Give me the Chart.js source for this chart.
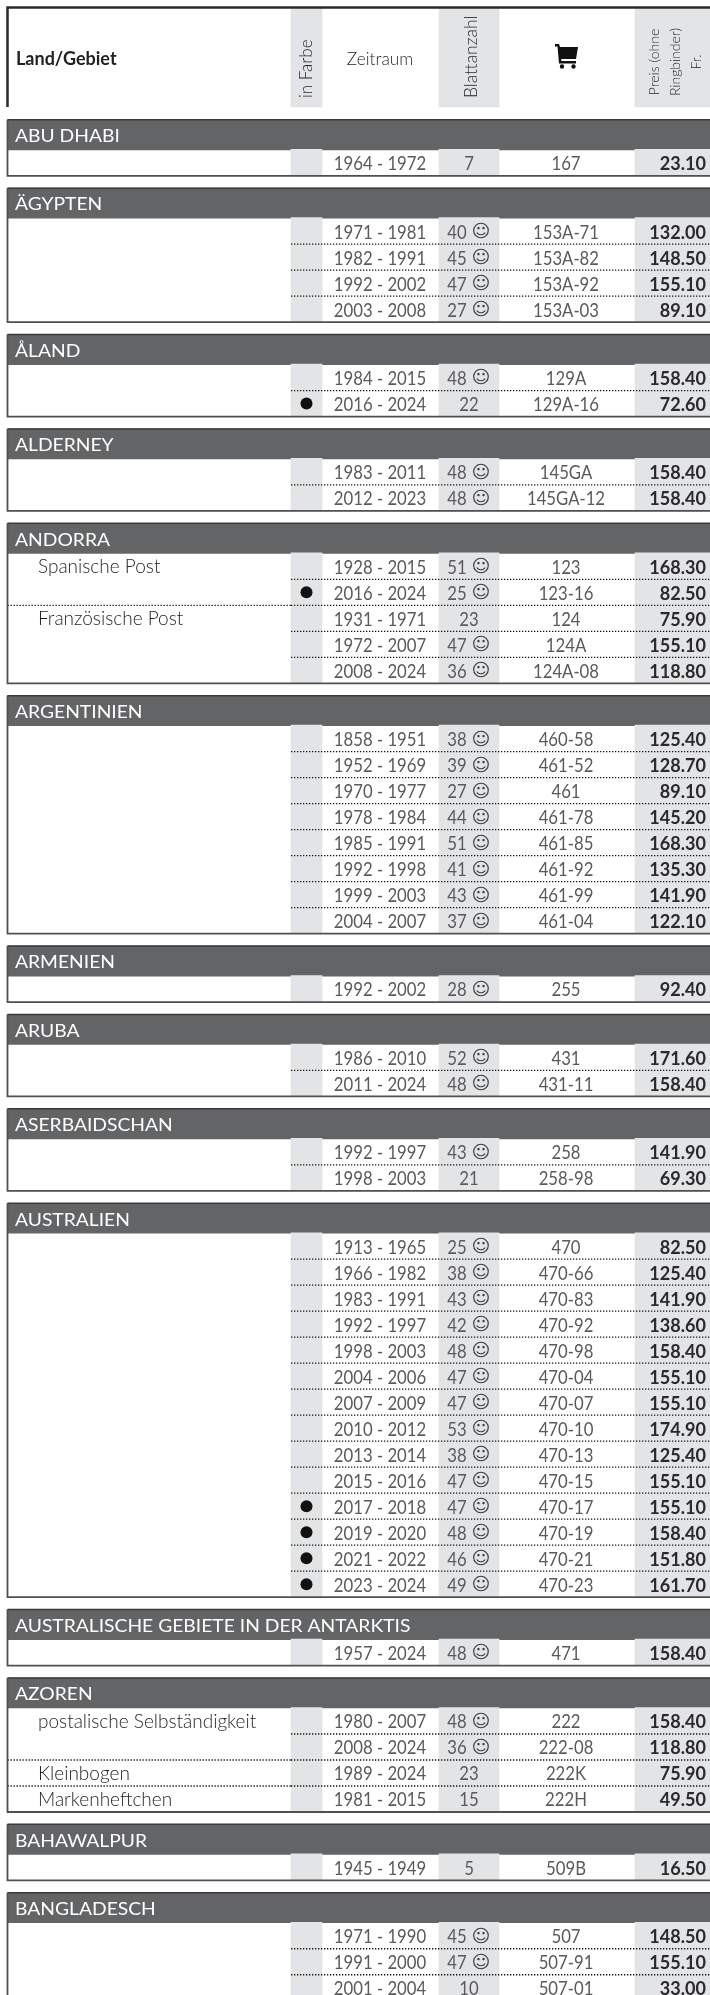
<!DOCTYPE html>
<html lang="de">
<head>
<meta charset="utf-8">
<title>Land/Gebiet</title>
<script src="https://cdn.jsdelivr.net/npm/chart.js@4"></script>
<style>
  html, body { margin: 0; padding: 0; background: #fff; overflow: hidden; }
  canvas { display: block; }
</style>
</head>
<body>
<canvas id="chart" width="710" height="1995"></canvas>
<script>
const sectionNames = ['ABU DHABI', 'ÄGYPTEN', 'ÅLAND', 'ALDERNEY', 'ANDORRA', 'ARGENTINIEN', 'ARMENIEN', 'ARUBA',
  'ASERBAIDSCHAN', 'AUSTRALIEN', 'AUSTRALISCHE GEBIETE IN DER ANTARKTIS', 'AZOREN', 'BAHAWALPUR', 'BANGLADESCH'];
const sectionRows = [1, 4, 2, 2, 5, 8, 1, 2, 2, 14, 1, 4, 1, 3];

const periods = ['1964 - 1972',
  '1971 - 1981', '1982 - 1991', '1992 - 2002', '2003 - 2008',
  '1984 - 2015', '2016 - 2024',
  '1983 - 2011', '2012 - 2023',
  '1928 - 2015', '2016 - 2024', '1931 - 1971', '1972 - 2007', '2008 - 2024',
  '1858 - 1951', '1952 - 1969', '1970 - 1977', '1978 - 1984', '1985 - 1991', '1992 - 1998', '1999 - 2003', '2004 - 2007',
  '1992 - 2002',
  '1986 - 2010', '2011 - 2024',
  '1992 - 1997', '1998 - 2003',
  '1913 - 1965', '1966 - 1982', '1983 - 1991', '1992 - 1997', '1998 - 2003', '2004 - 2006', '2007 - 2009',
  '2010 - 2012', '2013 - 2014', '2015 - 2016', '2017 - 2018', '2019 - 2020', '2021 - 2022', '2023 - 2024',
  '1957 - 2024',
  '1980 - 2007', '2008 - 2024', '1989 - 2024', '1981 - 2015',
  '1945 - 1949',
  '1971 - 1990', '1991 - 2000', '2001 - 2004'];
const sheetCounts = [7,
  40, 45, 47, 27,
  48, 22,
  48, 48,
  51, 25, 23, 47, 36,
  38, 39, 27, 44, 51, 41, 43, 37,
  28,
  52, 48,
  43, 21,
  25, 38, 43, 42, 48, 47, 47, 53, 38, 47, 47, 48, 46, 49,
  48,
  48, 36, 23, 15,
  5,
  45, 47, 10];
const orderCodes = ['167',
  '153A-71', '153A-82', '153A-92', '153A-03',
  '129A', '129A-16',
  '145GA', '145GA-12',
  '123', '123-16', '124', '124A', '124A-08',
  '460-58', '461-52', '461', '461-78', '461-85', '461-92', '461-99', '461-04',
  '255',
  '431', '431-11',
  '258', '258-98',
  '470', '470-66', '470-83', '470-92', '470-98', '470-04', '470-07', '470-10', '470-13', '470-15',
  '470-17', '470-19', '470-21', '470-23',
  '471',
  '222', '222-08', '222K', '222H',
  '509B',
  '507', '507-91', '507-01'];
const prices = [23.10,
  132.00, 148.50, 155.10, 89.10,
  158.40, 72.60,
  158.40, 158.40,
  168.30, 82.50, 75.90, 155.10, 118.80,
  125.40, 128.70, 89.10, 145.20, 168.30, 135.30, 141.90, 122.10,
  92.40,
  171.60, 158.40,
  141.90, 69.30,
  82.50, 125.40, 141.90, 138.60, 158.40, 155.10, 155.10, 174.90, 125.40, 155.10, 155.10, 158.40, 151.80, 161.70,
  158.40,
  158.40, 118.80, 75.90, 49.50,
  16.50,
  148.50, 155.10, 33.00];
// row numbers, counted from 0 over the whole table
const rowsWithoutSmiley = [0, 6, 11, 26, 44, 45, 46, 49];
const rowsInColour = [6, 10, 37, 38, 39, 40];
const subLabelRows = [9, 11, 42, 44, 45];
const subLabels = ['Spanische Post', 'Französische Post', 'postalische Selbständigkeit', 'Kleinbogen', 'Markenheftchen'];

// layout of the sheet, the axes run in page pixels
const TOP_Y = 119.8, BAND_H = 30, ROW_H = 26, GAP_H = 12.38, LEFT_X = 7.5, RIGHT_X = 710, HEAD_TOP = 7.5, HEAD_BOTTOM = 107;
const colourCol = { from: 291, to: 322 };
const sheetCol = { from: 439, to: 499 };
const priceCol = { from: 635, to: 710 };
const PERIOD_X = 380, SHEET_X = 469, SHEET_SMILEY_X = 457, SMILEY_X = 481, CODE_X = 566, PRICE_X = 706, NAME_X = 15, SUB_X = 38;

const sections = [];
let cursor = TOP_Y, firstRow = 0;
sectionRows.forEach((count, i) => {
  sections.push({ name: sectionNames[i], top: cursor, bodyTop: cursor + BAND_H, bottom: cursor + BAND_H + count * ROW_H, firstRow, count });
  cursor += BAND_H + count * ROW_H + GAP_H;
  firstRow += count;
});

const rowCenters = [];
sections.forEach(s => {
  for (let r = 0; r < s.count; r++) rowCenters.push(s.bodyTop + (r + 0.5) * ROW_H);
});

function columnBars(col) {
  const bars = [{ x: (col.from + col.to) / 2, y: [HEAD_TOP, HEAD_BOTTOM] }];
  sections.forEach(s => bars.push({ x: (col.from + col.to) / 2, y: [s.bodyTop - 0.5, s.bottom] }));
  return {
    type: 'bar', data: bars, backgroundColor: '#e3e4e6', barThickness: col.to - col.from, grouped: false, order: 5
  };
}

const headPoints = [{ x: LEFT_X, y: HEAD_BOTTOM }, { x: LEFT_X, y: HEAD_TOP }, { x: RIGHT_X, y: HEAD_TOP }];
const outlinePoints = [];
const rowRulePoints = [];
const subRulePoints = [];
sections.forEach(s => {
  outlinePoints.push({ x: LEFT_X, y: s.top }, { x: LEFT_X, y: s.bottom }, { x: RIGHT_X, y: s.bottom }, { x: NaN, y: NaN });
  for (let r = 1; r < s.count; r++) {
    const y = s.bodyTop + r * ROW_H;
    rowRulePoints.push({ x: colourCol.from, y }, { x: RIGHT_X, y }, { x: NaN, y: NaN });
    if (subLabelRows.includes(s.firstRow + r)) subRulePoints.push({ x: LEFT_X, y }, { x: colourCol.from, y }, { x: NaN, y: NaN });
  }
});
const bandTopPoints = [];
sections.forEach(s => bandTopPoints.push({ x: LEFT_X, y: s.top }, { x: RIGHT_X, y: s.top }, { x: NaN, y: NaN }));

const lineBase = { type: 'scatter', showLine: true, pointRadius: 0, spanGaps: false, order: 2 };

const datasets = [
  {
    type: 'bar',
    data: sections.map(s => ({ x: (LEFT_X + RIGHT_X) / 2, y: [s.top, s.bodyTop] })),
    backgroundColor: '#636466', barThickness: RIGHT_X - LEFT_X, grouped: false, order: 6
  },
  columnBars(colourCol),
  columnBars(sheetCol),
  columnBars(priceCol),
  { ...lineBase, data: rowRulePoints, borderColor: '#111', borderWidth: 1.3, borderDash: [1.3, 1.7] },
  { ...lineBase, data: subRulePoints, borderColor: '#111', borderWidth: 1.3, borderDash: [1.3, 1.7] },
  { ...lineBase, data: outlinePoints, borderColor: '#505052', borderWidth: 1.8, order: 1 },
  { ...lineBase, data: bandTopPoints, borderColor: '#3a3a3c', borderWidth: 1.5, order: 1 },
  { ...lineBase, data: headPoints, borderColor: '#2a2a2c', borderWidth: 2.5, order: 1 },
  {
    type: 'scatter',
    data: rowsInColour.map(r => ({ x: (colourCol.from + colourCol.to) / 2, y: rowCenters[r] })),
    pointRadius: 6, backgroundColor: '#111', borderWidth: 0, order: 1
  }
];

const textColour = '#1f1f21';
const numeralColour = '#5a5a5c';
const LIGHT = '300 19px Lato, Roboto, sans-serif';
const NUMERAL = '400 19px Lato, Roboto, sans-serif';
const BOLD = '700 19px Lato, Roboto, sans-serif';

const tableText = {
  id: 'tableText',
  afterDatasetsDraw(chart) {
    const { ctx, scales: { x, y } } = chart;

    const put = (text, xv, yv, font, opts = {}) => {
      ctx.save();
      ctx.translate(x.getPixelForValue(xv), y.getPixelForValue(yv));
      if (opts.rotate) ctx.rotate(-Math.PI / 2);
      ctx.scale(opts.squeeze || 1, 1);
      ctx.font = font;
      ctx.fillStyle = opts.colour || textColour;
      ctx.textAlign = opts.align || 'center';
      ctx.textBaseline = 'middle';
      ctx.fillText(text, 0, 0);
      ctx.restore();
    };

    // header row
    const headMid = 59;
    put('Land/Gebiet', 16, headMid, '700 18px Lato, sans-serif', { align: 'left', colour: '#222' });
    put('Zeitraum', PERIOD_X, headMid, '300 18px Lato, sans-serif', { squeeze: 0.96 });
    put('in Farbe', 307, 98, '300 17px Lato, sans-serif', { rotate: true, align: 'left' });
    put('Blattanzahl', 471, 98, '300 17.5px Lato, sans-serif', { rotate: true, align: 'left' });
    put('Preis (ohne', 654, 62, '300 14px Lato, sans-serif', { rotate: true });
    put('Ringbinder)', 675, 62, '300 14px Lato, sans-serif', { rotate: true });
    put('Fr.', 696, 62, '300 14px Lato, sans-serif', { rotate: true });

    // shopping cart in the order number column
    ctx.save();
    ctx.translate(x.getPixelForValue(CODE_X), y.getPixelForValue(56));
    ctx.fillStyle = '#111';
    ctx.beginPath();
    ctx.moveTo(-11, -12); ctx.lineTo(-7, -12); ctx.lineTo(-6, -9); ctx.lineTo(12, -9);
    ctx.lineTo(10, 3); ctx.lineTo(-5, 3); ctx.lineTo(-4.5, 5); ctx.lineTo(10, 5); ctx.lineTo(10, 7.5);
    ctx.lineTo(-7, 7.5); ctx.lineTo(-8.5, -9.5); ctx.lineTo(-11, -9.5);
    ctx.closePath();
    ctx.fill();
    ctx.beginPath();
    ctx.arc(-4, 10.5, 2.2, 0, Math.PI * 2);
    ctx.arc(7.5, 10.5, 2.2, 0, Math.PI * 2);
    ctx.fill();
    ctx.restore();

    sections.forEach(s => {
      put(s.name, NAME_X, s.top + BAND_H / 2 + 1.5, '400 18px Lato, sans-serif', { align: 'left', squeeze: 1.07, colour: '#fff' });
    });

    subLabelRows.forEach((r, i) => {
      put(subLabels[i], SUB_X, rowCenters[r] + 0.5, LIGHT, { align: 'left' });
    });

    rowCenters.forEach((yv, r) => {
      put(periods[r], PERIOD_X, yv + 1.2, NUMERAL, { squeeze: 0.88, colour: numeralColour });
      const smiley = !rowsWithoutSmiley.includes(r);
      put(String(sheetCounts[r]), smiley ? SHEET_SMILEY_X : SHEET_X, yv + 1.2, NUMERAL, { squeeze: 0.88, colour: numeralColour });
      if (smiley) put('☺', SMILEY_X, yv + 1.2, '18px "DejaVu Sans"', { colour: '#3c3c3e' });
      put(orderCodes[r], CODE_X, yv + 1.2, NUMERAL, { squeeze: 0.88, colour: numeralColour });
      put(prices[r].toFixed(2), PRICE_X, yv + 1.2, BOLD, { align: 'right', squeeze: 0.95, colour: '#2a2a2c' });
    });
  }
};

new Chart(document.getElementById('chart').getContext('2d'), {
  type: 'bar',
  data: { datasets },
  plugins: [tableText],
  options: {
    responsive: false,
    animation: false,
    events: [],
    layout: { padding: 0, autoPadding: false },
    parsing: { xAxisKey: 'x', yAxisKey: 'y' },
    plugins: { legend: { display: false }, tooltip: { enabled: false } },
    scales: {
      x: { type: 'linear', min: 0, max: 710, offset: false, display: false, grid: { display: false } },
      y: { type: 'linear', min: 0, max: 1995, reverse: true, display: false, grid: { display: false } }
    }
  }
});
</script>
</body>
</html>
